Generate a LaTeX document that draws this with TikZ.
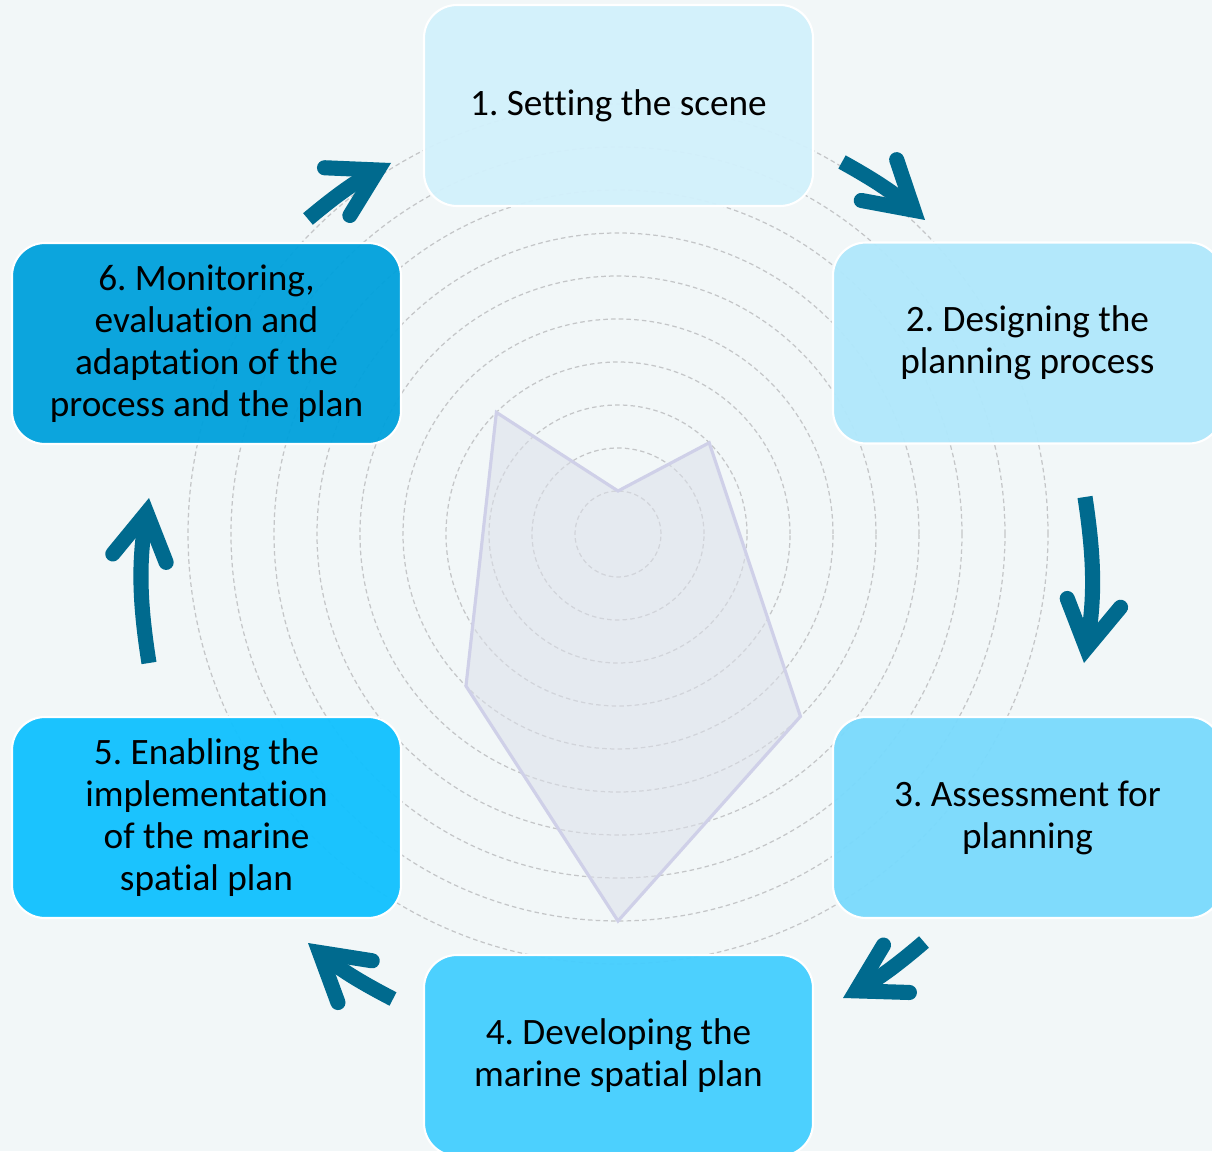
\documentclass[tikz,border=0pt]{standalone}
\usepackage{fontspec}
\setmainfont{Carlito}[Ligatures=NoCommon]
\usepackage{tikz}
\usetikzlibrary{arrows.meta, calc, positioning}
\definecolor{bgcol}{HTML}{F2F7F8}
\definecolor{ringcol}{HTML}{C4C6C8}
\definecolor{radarfill}{HTML}{DCE0EA}
\definecolor{radarline}{HTML}{CFD0E8}
\definecolor{arrowcol}{HTML}{006A8E}
\definecolor{step1}{HTML}{D2F1FC}
\definecolor{step2}{HTML}{B0E8FC}
\definecolor{step3}{HTML}{79DAFD}
\definecolor{step4}{HTML}{44CEFF}
\definecolor{step5}{HTML}{10C1FF}
\definecolor{step6}{HTML}{00A1DC}
\newcommand{\stepwd}{3.89cm}
\newcommand{\stepht}{2.01cm}
\newcommand{\ringstep}{0.43cm}
\newcommand{\stepfont}{\fontsize{10.6pt}{11.95pt}\selectfont\frenchspacing}

\begin{document}
\begin{tikzpicture}[style=thick,scale=1]
            \useasboundingbox (0,0) rectangle (12.12,11.51);
            \fill[bgcol] (0,0) rectangle (12.12,11.51);
            \coordinate (c) at (6.18,6.17);

            % rings
            \foreach \k in {1,...,10}
                \draw[ringcol, line width=0.35pt, dash pattern=on 1.3pt off 0.9pt] (c) circle[radius=\k*\ringstep];

            % radar shape
            \draw[radarline, line width=0.9pt, fill=radarfill, fill opacity=0.55, line join=miter]
                ($(c)+(135:{4*\ringstep})$) -- ($(c)+(90:{1*\ringstep})$)
                -- ($(c)+(45:{3*\ringstep})$) -- ($(c)+(-45:{6*\ringstep})$)
                -- ($(c)+(-90:{9*\ringstep})$) -- ($(c)+(-135:{5*\ringstep})$) -- cycle;

            \begin{scope}[shape=rectangle, minimum width=\stepwd, minimum height=\stepht]
            \tikzstyle{every node}=[draw=white, line width=0.6pt, rounded corners=0.33cm, fill opacity=0.95, text opacity=1, align=center, font=\stepfont]

            \node[fill=step1] (s_1) at (6.185,10.455) {1. Setting the scene};
            \node[fill=step2] (s_2) at (10.275,8.08) {2. Designing the\\planning process};
            \node[fill=step3] (s_3) at (10.275,3.335) {3. Assessment for\\planning};
            \node[fill=step4] (s_4) at (6.185,0.955) {4. Developing the\\marine spatial plan};
            \node[fill=step5] (s_5) at (2.065,3.335) {5. Enabling the\\implementation\\of the marine\\spatial plan};
            \node[fill=step6] (s_6) at (2.065,8.075) {6. Monitoring,\\evaluation and\\adaptation of the\\process and the plan};
            \end{scope}

            % arrow ends
            \coordinate (a_1) at (8.42,9.89);  \coordinate (b_1) at (9.25,9.31);
            \coordinate (a_2) at (10.85,6.54); \coordinate (b_2) at (10.84,4.88);
            \coordinate (a_3) at (9.24,2.09);  \coordinate (b_3) at (8.43,1.53);
            \coordinate (a_4) at (3.93,1.52);  \coordinate (b_4) at (3.08,2.08);
            \coordinate (a_5) at (1.49,4.88);  \coordinate (b_5) at (1.49,6.53);
            \coordinate (a_6) at (3.08,9.32);  \coordinate (b_6) at (3.91,9.88);

            \tikzstyle{cyc}=[arrowcol, line width=4.3pt,
                -{Straight Barb[length=4.6mm, width=5.4mm, line width=4.3pt, line cap=round, line join=miter]}]

            \draw [cyc] (a_1) to[bend left=6] (b_1);
            \draw [cyc] (a_2) to[bend left=9] (b_2);
            \draw [cyc] (a_3) to[bend left=6] (b_3);
            \draw [cyc] (a_4) to[bend left=6] (b_4);
            \draw [cyc] (a_5) to[bend left=9] (b_5);
            \draw [cyc] (a_6) to[bend left=6] (b_6);
\end{tikzpicture}
\end{document}
